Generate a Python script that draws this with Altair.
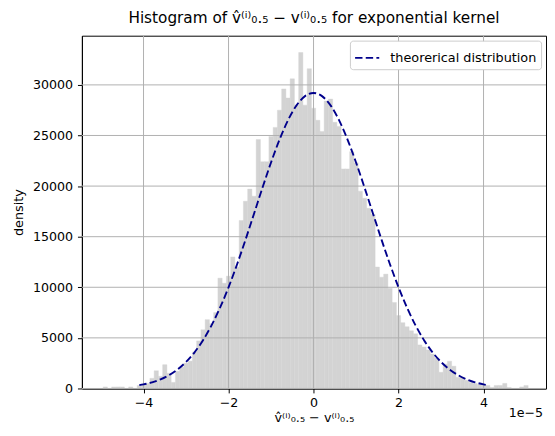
import altair as alt
import pandas as pd

# ---- data (x in units of 1e-5) ----
bin_lo = -4.95
bin_width = 0.1
counts = [
    150, 0, 150, 150, 150, 0, 150, 0, 300, 400,
    500, 1000, 1750, 1200, 2350, 1500, 600, 1700, 2100, 2500,
    2700, 3600, 4700, 5800, 6800, 6400, 7500, 10900, 10400, 11100,
    13000, 12000, 16600, 18500, 19700, 19000, 24600, 22400, 22400, 24900,
    25800, 27500, 29600, 28700, 30600, 28000, 33200, 28000, 31600, 27700,
    26500, 25400, 28400, 28600, 26300, 25900, 21700, 21700, 23400, 22300,
    19500, 18800, 17800, 17200, 12000, 11000, 11300, 9900, 8500, 7200,
    6500, 6100, 5700, 5400, 4300, 4100, 3800, 3400, 3000, 1600,
    2400, 2700, 2200, 1100, 1100, 800, 600, 500, 400, 400,
    300, 100, 300, 300, 500, 100, 0, 0, 150, 300,
]
curve_x = [-4.1, -4.0, -3.8, -3.6, -3.4, -3.2, -3.0, -2.8, -2.6, -2.4, -2.2, -2.0,
           -1.8, -1.6, -1.4, -1.2, -1.0, -0.8, -0.6, -0.4, -0.2, 0.0,
           0.2, 0.4, 0.6, 0.8, 1.0, 1.2, 1.4, 1.6, 1.8, 2.0,
           2.2, 2.4, 2.6, 2.8, 3.0, 3.2, 3.4, 3.6, 3.8, 4.0, 4.1]
curve_y = [323, 401, 609, 906, 1318, 1878, 2618, 3573, 4773, 6239, 7983, 9998,
           12256, 14705, 17271, 19853, 22336, 24598, 26515, 27975, 28889, 29200,
           28889, 27975, 26515, 24598, 22336, 19853, 17271, 14705, 12256, 9998,
           7983, 6239, 4773, 3573, 2618, 1878, 1318, 906, 609, 401, 323]
x_ticks = [-4, -2, 0, 2, 4]
y_ticks = [0, 5000, 10000, 15000, 20000, 25000, 30000]
series_name = "theorerical distribution"

hist = pd.DataFrame({
    "left": [round(bin_lo + bin_width * i, 3) for i in range(len(counts))],
    "count": counts,
})
hist["right"] = (hist["left"] + bin_width).round(3)
curve = pd.DataFrame({"x": curve_x, "y": curve_y, "series": series_name})
xgrid = pd.DataFrame({"v": x_ticks})
ygrid = pd.DataFrame({"v": y_ticks})
offset_txt = pd.DataFrame({"t": ["1e\u22125"]})

FONT = "DejaVu Sans"
xscale = alt.Scale(domain=[-5.45, 5.47], nice=False, zero=False)
yscale = alt.Scale(domain=[0, 34860], nice=False, zero=False)

VHAT = "v\u0302\u207d\u2071\u207e\u2080.\u2085 \u2212 v\u207d\u2071\u207e\u2080.\u2085"

x_axis = alt.Axis(
    values=x_ticks,
    title=VHAT,
    labelExpr="replace(format(datum.value, 'd'), '-', '\u2212')",
)
y_axis = alt.Axis(values=y_ticks, title="density", format="d")

bars = alt.Chart(hist).mark_rect(
    color="#d3d3d3", stroke="#d3d3d3", strokeWidth=0.4
).encode(
    x=alt.X("left:Q", scale=xscale, axis=x_axis),
    x2="right:Q",
    y=alt.Y("count:Q", scale=yscale, axis=y_axis),
    y2=alt.datum(0),
)

vgrid = alt.Chart(xgrid).mark_rule(color="#b0b0b0", strokeWidth=1).encode(
    x=alt.X("v:Q", scale=xscale, axis=x_axis)
)
hgrid = alt.Chart(ygrid).mark_rule(color="#b0b0b0", strokeWidth=1).encode(
    y=alt.Y("v:Q", scale=yscale, axis=y_axis)
)

line = alt.Chart(curve).mark_line(
    strokeDash=[7.5, 3.3], strokeWidth=1.9, interpolate="monotone"
).encode(
    x=alt.X("x:Q", scale=xscale, axis=x_axis),
    y=alt.Y("y:Q", scale=yscale, axis=y_axis),
    color=alt.Color(
        "series:N",
        scale=alt.Scale(domain=[series_name], range=["#00008b"]),
        legend=alt.Legend(
            title=None,
            orient="top-right",
            offset=5,
            fillColor="white",
            strokeColor="#cccccc",
            cornerRadius=3,
            padding=4,
            labelFontSize=13,
            labelFont=FONT,
            labelColor="black",
            labelOffset=10,
            symbolType="stroke",
            symbolDash=[7.5, 3.3],
            symbolStrokeWidth=1.9,
            symbolStrokeColor="#00008b",
            symbolSize=600,
        ),
    ),
)

# offset label "1e-5" placed just below the lower-right corner of the axes
offset_label = alt.Chart(offset_txt).mark_text(
    align="right", baseline="middle", fontSize=12.8, font=FONT, color="black"
).encode(
    x=alt.datum(5.40, type="quantitative"),
    y=alt.datum(-2450, type="quantitative"),
    text="t:N",
)

chart = alt.layer(bars, vgrid, hgrid, line, offset_label).properties(
    width=547,
    height=420,
    autosize=alt.AutoSizeParams(type="fit", contains="padding"),
    padding={"left": 4, "top": 0, "right": 0, "bottom": 0},
    title=alt.TitleParams(
        text="Histogram of " + VHAT + " for exponential kernel",
        font=FONT,
        fontSize=15.5,
        fontWeight="normal",
        color="black",
        anchor="middle",
        offset=9,
    ),
    background="white",
).configure_view(
    stroke="black", strokeWidth=1
).configure_axis(
    grid=False,
    domainColor="black",
    domainWidth=1,
    tickColor="black",
    tickSize=4.5,
    tickWidth=1,
    labelFont=FONT,
    labelFontSize=12.8,
    labelColor="black",
    labelPadding=5,
    titleFont=FONT,
    titleFontSize=13,
    titleFontWeight="normal",
    titleColor="black",
).configure_axisY(
    titlePadding=7,
).configure_axisX(
    labelPadding=4,
    titlePadding=2,
)

chart.save("out.html", embed_options={"renderer": "svg", "actions": False})
